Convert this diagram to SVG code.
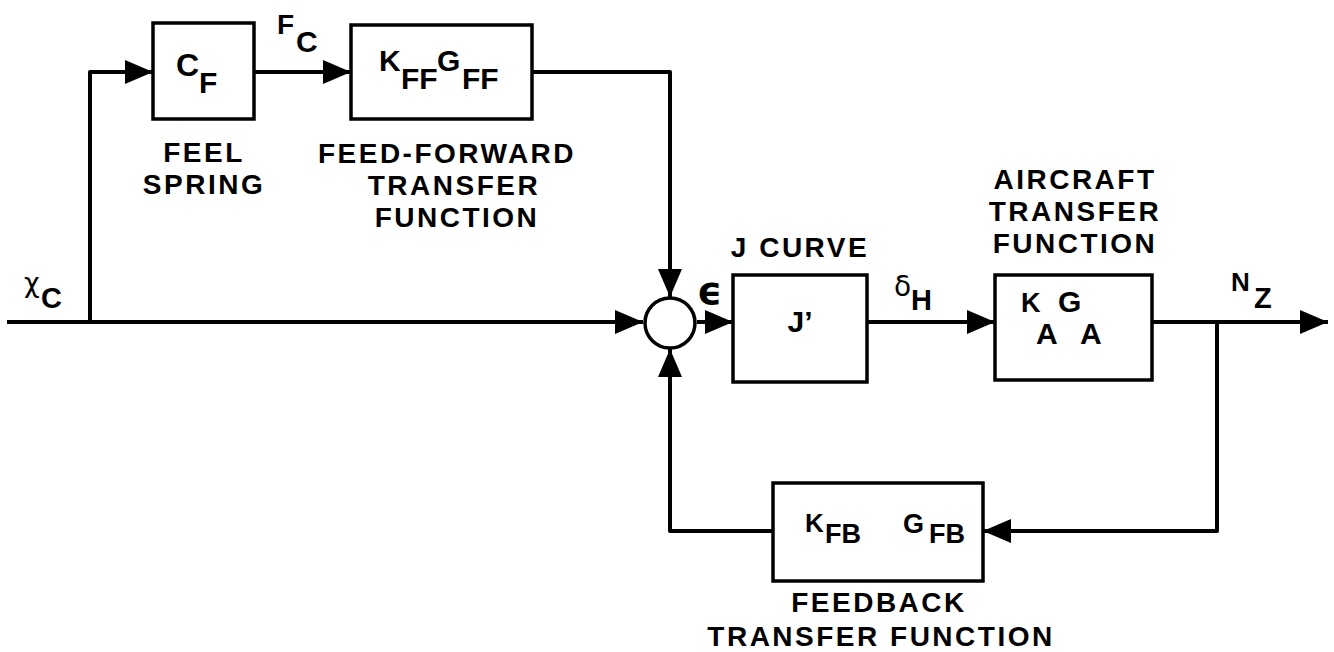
<svg xmlns="http://www.w3.org/2000/svg" width="1334" height="652" viewBox="0 0 1334 652">
<style>
.box{fill:#fff;stroke:#000;stroke-width:3.5}
.ln{fill:none;stroke:#000;stroke-width:4;stroke-linejoin:round}
.lbl{font-family:"Liberation Sans",Arial,sans-serif;font-weight:bold;font-size:28px;letter-spacing:2.5px;text-anchor:middle;fill:#000}
.sym{font-family:"Liberation Sans",Arial,sans-serif;font-weight:bold;fill:#000}
.greek{font-family:"DejaVu Sans","Liberation Sans",sans-serif;fill:#000}
</style>
<defs>
<marker id="ah" markerUnits="userSpaceOnUse" markerWidth="28" markerHeight="24" refX="28" refY="12" orient="auto">
<path d="M0,0 L28,12 L0,24 Z" fill="#000"/>
</marker>
</defs>
<rect width="1334" height="652" fill="#fff"/>
<g id="connectors">
<path class="ln" d="M7,322 H643" marker-end="url(#ah)"/>
<path class="ln" d="M90,322 V72 H153" marker-end="url(#ah)"/>
<path class="ln" d="M254,72 H351" marker-end="url(#ah)"/>
<path class="ln" d="M532,72 H670 V297" marker-end="url(#ah)"/>
<path class="ln" d="M697,322 H733" marker-end="url(#ah)"/>
<path class="ln" d="M867,322 H995" marker-end="url(#ah)"/>
<path class="ln" d="M1152,322 H1328" marker-end="url(#ah)"/>
<path class="ln" d="M1217,322 V531 H983" marker-end="url(#ah)"/>
<path class="ln" d="M773,531 H670 V349" marker-end="url(#ah)"/>
</g>
<g id="input-label">
<text class="greek" x="24" y="292" font-size="27">χ</text>
<text class="sym" x="41" y="308" font-size="29">C</text>
</g>
<g id="fc-label">
<text class="sym" x="277" y="34" font-size="28">F</text>
<text class="sym" x="296" y="52" font-size="30">C</text>
</g>
<g id="feel-spring">
<rect class="box" x="153" y="23" width="101" height="96"/>
<text class="sym" x="176" y="76" font-size="32">C</text>
<text class="sym" x="199" y="93" font-size="30">F</text>
<text class="lbl"><tspan x="204" y="162">FEEL</tspan><tspan x="204" y="194">SPRING</tspan></text>
</g>
<g id="feed-forward">
<rect class="box" x="351" y="25" width="181" height="94"/>
<text class="sym" x="379" y="71" font-size="30">K</text>
<text class="sym" x="401" y="89" font-size="30">FF</text>
<text class="sym" x="437" y="71" font-size="30">G</text>
<text class="sym" x="462" y="89" font-size="30">FF</text>
<text class="lbl"><tspan x="447" y="163">FEED-FORWARD</tspan><tspan x="454" y="195">TRANSFER</tspan><tspan x="457" y="227">FUNCTION</tspan></text>
</g>
<g id="summing-junction">
<circle cx="670" cy="323" r="25" fill="#fff" stroke="#000" stroke-width="3.5"/>
<text class="greek" x="697" y="304" font-size="39" font-weight="bold">ϵ</text>
</g>
<g id="j-curve">
<rect class="box" x="733" y="275" width="134" height="107"/>
<text class="sym" x="800" y="332" font-size="30" text-anchor="middle">J’</text>
<text class="lbl" x="800" y="257">J CURVE</text>
</g>
<g id="dh-label">
<text class="greek" x="894" y="296" font-size="28">δ</text>
<text class="sym" x="911" y="310" font-size="29">H</text>
</g>
<g id="aircraft">
<rect class="box" x="995" y="275" width="157" height="105"/>
<text class="sym" x="1021" y="312" font-size="27">K</text>
<text class="sym" x="1036" y="344" font-size="30">A</text>
<text class="sym" x="1058" y="312" font-size="30">G</text>
<text class="sym" x="1080" y="344" font-size="30">A</text>
<text class="lbl"><tspan x="1075" y="189">AIRCRAFT</tspan><tspan x="1075" y="221">TRANSFER</tspan><tspan x="1075" y="253">FUNCTION</tspan></text>
</g>
<g id="nz-label">
<text class="sym" x="1231" y="291" font-size="26">N</text>
<text class="sym" x="1254" y="308" font-size="29">Z</text>
</g>
<g id="feedback">
<rect class="box" x="773" y="483" width="210" height="98"/>
<text class="sym" x="805" y="532" font-size="26">K</text>
<text class="sym" x="825" y="543" font-size="27">FB</text>
<text class="sym" x="903" y="533" font-size="27">G</text>
<text class="sym" x="929" y="543" font-size="27">FB</text>
<text class="lbl"><tspan x="879" y="612">FEEDBACK</tspan><tspan x="881" y="646">TRANSFER FUNCTION</tspan></text>
</g>
</svg>
